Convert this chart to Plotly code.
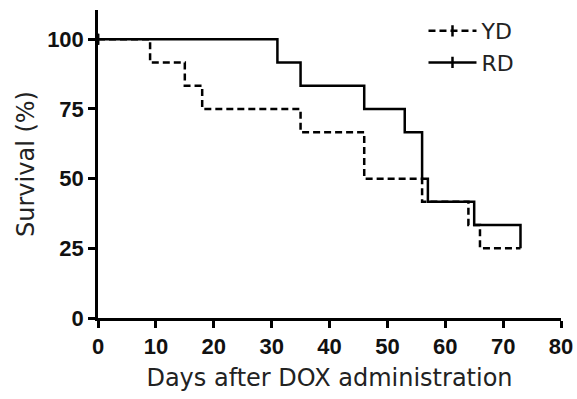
import plotly.graph_objects as go

# Kaplan-Meier step data (days, survival %)
yd_days = [0, 9, 15, 18, 35, 46, 56, 64, 66, 73]
yd_surv = [100, 91.67, 83.33, 75, 66.67, 50, 41.67, 33.33, 25, 25]

rd_days = [0, 31, 35, 46, 53, 56, 57, 65, 73]
rd_surv = [100, 91.67, 83.33, 75, 66.67, 50, 41.67, 33.33, 25]

x_ticks = [0, 10, 20, 30, 40, 50, 60, 70, 80]
y_ticks = [0, 25, 50, 75, 100]

TICKFONT = "Liberation Sans, Arial, Helvetica, sans-serif"
TITLEFONT = "DejaVu Sans, Liberation Sans, Arial, sans-serif"


def tick_colors(n):
    return ["black"] + ["rgba(0,0,0,0)"] * (n - 1)


fig = go.Figure()
fig.add_trace(go.Scatter(
    x=yd_days, y=yd_surv, name="YD", mode="lines+markers",
    line=dict(color="black", width=2.5, dash="7px,4px", shape="hv"),
    marker=dict(symbol="line-ns", size=8, color="black",
                line=dict(width=2.5, color=tick_colors(len(yd_days)))),
))
fig.add_trace(go.Scatter(
    x=rd_days, y=rd_surv, name="RD", mode="lines+markers",
    line=dict(color="black", width=2.5, shape="hv"),
    marker=dict(symbol="line-ns", size=8, color="black",
                line=dict(width=2.5, color=tick_colors(len(rd_days)))),
))

fig.update_layout(
    width=577, height=399,
    margin=dict(l=98, r=16, t=10, b=81, autoexpand=False),
    paper_bgcolor="white", plot_bgcolor="white",
    font=dict(family=TICKFONT, color="#111"),
    showlegend=True,
    legend=dict(x=0.703, y=1.0, xanchor="left", yanchor="top",
                font=dict(size=22, color="#222", family=TITLEFONT),
                bgcolor="rgba(0,0,0,0)", borderwidth=0,
                tracegroupgap=0, itemwidth=48),
    xaxis=dict(range=[0, 80], tickvals=x_ticks, ticktext=[str(v) for v in x_ticks],
               showgrid=False, zeroline=False, showline=True, linecolor="black",
               linewidth=2.5, ticks="outside", ticklen=7, tickwidth=2.5,
               tickcolor="black", automargin=False,
               tickfont=dict(size=22, weight="bold", color="#111", family=TICKFONT),
               title=dict(text="Days after DOX administration", standoff=12,
                          font=dict(size=24, color="#222", family=TITLEFONT))),
    yaxis=dict(range=[0, 110.5], tickvals=y_ticks, ticktext=[str(v) for v in y_ticks],
               showgrid=False, zeroline=False, showline=True, linecolor="black",
               linewidth=2.5, ticks="outside", ticklen=7, tickwidth=2.5,
               tickcolor="black", automargin=False,
               tickfont=dict(size=22, weight="bold", color="#111", family=TICKFONT),
               title=dict(text="Survival (%)", standoff=6,
                          font=dict(size=24, color="#222", family=TITLEFONT))),
)

fig.write_html("out.html",
               config={"displayModeBar": False},
               post_script="document.body.style.margin='0';document.body.style.overflow='hidden';")
